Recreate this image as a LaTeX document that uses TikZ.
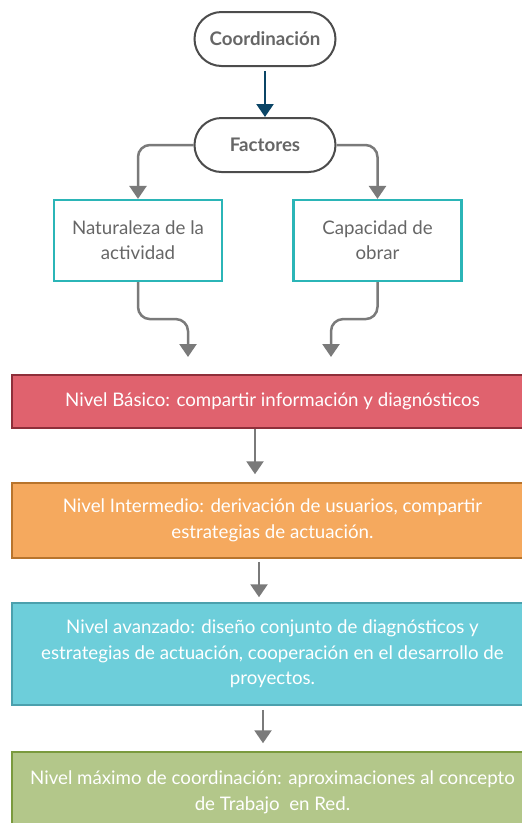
\documentclass[tikz,border=0pt]{standalone}
\usepackage{fontspec}
\setmainfont{Lato}
\usetikzlibrary{arrows.meta,positioning}
\definecolor{gristexto}{HTML}{666666}
\definecolor{grisflecha}{HTML}{7A7A7A}
\definecolor{azulflecha}{HTML}{0B4566}
\definecolor{turquesa}{HTML}{2BB5B7}
\definecolor{rojofill}{HTML}{E0626E}
\definecolor{rojoborde}{HTML}{8E2F3A}
\definecolor{naranjafill}{HTML}{F5A95E}
\definecolor{naranjaborde}{HTML}{B8742C}
\definecolor{celestefill}{HTML}{6DCEDA}
\definecolor{celesteborde}{HTML}{4BA0AD}
\definecolor{verdefill}{HTML}{B3C78A}
\definecolor{verdeborde}{HTML}{7A9A3E}

\begin{document}
\begin{tikzpicture}[x=1pt,y=-1pt,
    inicio/.style={draw=black!70,line width=2pt,rounded corners=27pt,
        minimum width=141pt,minimum height=54pt,text=gristexto,
        font=\bfseries\fontsize{18.7}{25}\selectfont},
    factor/.style={draw=turquesa,line width=2.2pt,minimum width=168pt,
        minimum height=81pt,text=gristexto,align=center,
        font=\fontsize{18.7}{25}\selectfont},
    nivel/.style={line width=1.5pt,minimum width=521pt,inner sep=0pt,
        text=white,align=center,font=\fontsize{18.7}{25.5}\selectfont},
    flecha/.style={draw=grisflecha,line width=2.5pt,rounded corners=12pt,
        -{Triangle[length=13pt,width=17pt]}}]
    \useasboundingbox (0,0) rectangle (522,823);

    \node[inicio] (coord) at (265,39) {Coordinación};
    \node[inicio] (fact) at (265,145) {Factores};
    \node[factor] (nat) at (138,240.5) {Naturaleza de la\\actividad};
    \node[factor] (cap) at (377.5,240.5) {Capacidad de\\obrar};

    \node[nivel,fill=rojofill,draw=rojoborde,minimum height=53pt]
        (basico) at (272.5,401.5)
        {Nivel Básico: compartir información y diagnósticos};
    \node[nivel,fill=naranjafill,draw=naranjaborde,minimum height=75pt]
        (inter) at (272.5,520.5)
        {Nivel Intermedio: derivación de usuarios, compartir\\estrategias de actuación.};
    \node[nivel,fill=celestefill,draw=celesteborde,minimum height=102pt]
        (avanz) at (272.5,654)
        {Nivel avanzado: diseño conjunto de diagnósticos y\\estrategias de actuación, cooperación en el desarrollo de\\proyectos.};
    \node[nivel,fill=verdefill,draw=verdeborde,minimum height=81pt]
        (maximo) at (272.5,792.5)
        {Nivel máximo de coordinación: aproximaciones al concepto\\de Trabajo \ en Red.};

    \coordinate (natfin) at (188,357);
    \coordinate (capfin) at (331,357);

    \draw[flecha,draw=azulflecha,shorten <=4pt] (coord) -- (fact);
    \draw[flecha] (fact.west) -| (nat.north);
    \draw[flecha] (fact.east) -| (cap.north);
    \draw[flecha] (nat.south) -- ++(0,37) -| (natfin);
    \draw[flecha] (cap.south) -- ++(0,37) -| (capfin);

    \draw[flecha,shorten >=8pt] ([xshift=-17.5pt]basico.south) -- ([xshift=-17.5pt]inter.north);
    \draw[flecha,shorten <=3pt,shorten >=5pt] ([xshift=-13.5pt]inter.south) -- ([xshift=-13.5pt]avanz.north);
    \draw[flecha,shorten <=4pt,shorten >=8pt] ([xshift=-9.5pt]avanz.south) -- ([xshift=-9.5pt]maximo.north);
\end{tikzpicture}
\end{document}
